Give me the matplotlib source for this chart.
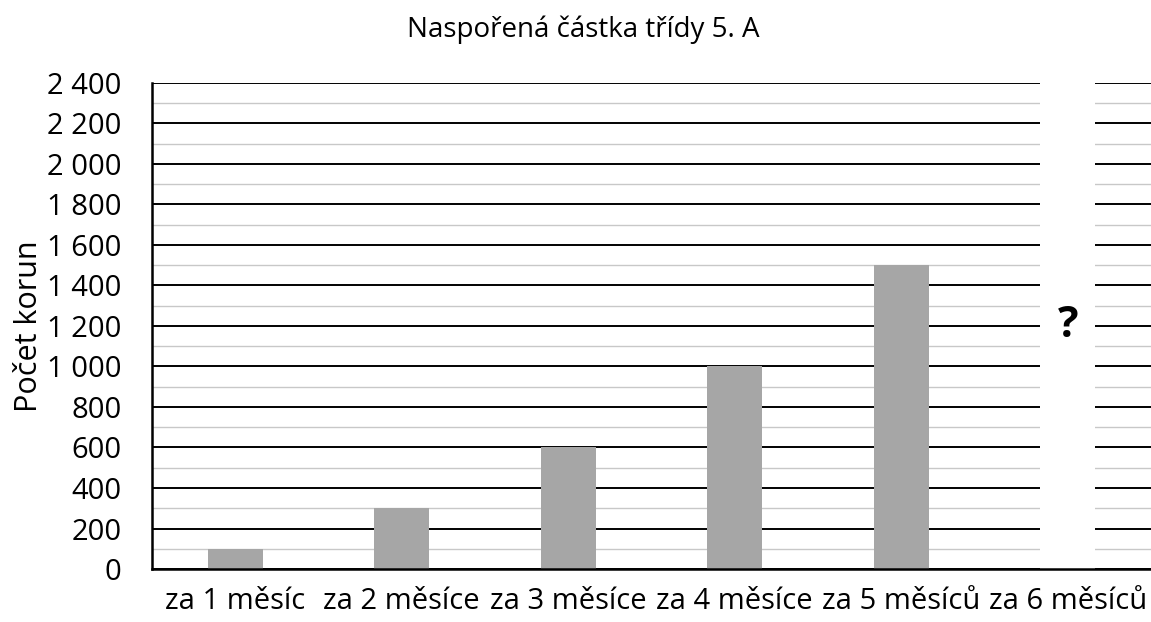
import numpy as np
import matplotlib.pyplot as plt
from matplotlib.ticker import MultipleLocator, FuncFormatter

plt.rcParams['font.family'] = ['Open Sans', 'DejaVu Sans']

categories = ["za 1 měsíc", "za 2 měsíce", "za 3 měsíce", "za 4 měsíce", "za 5 měsíců", "za 6 měsíců"]
values = [100, 300, 600, 1000, 1500]
unknown_label = "?"
unknown_pos = 1200
y_max = 2400

fig = plt.figure(figsize=(11.51, 6.22), dpi=100)
ax = fig.add_axes([0.132, 0.0852, 0.868, 0.7814])

x = np.arange(len(categories))
ax.bar(x[:len(values)], values, width=0.33, color="#a6a6a6", zorder=3)
# blank column over the gridlines for the missing month
ax.bar(x[len(values):], [y_max], width=0.33, color="white", zorder=3)
ax.text(x[-1], unknown_pos, unknown_label, ha="center", va="center",
        fontsize=31, fontweight="bold", zorder=4)

ax.set_xlim(-0.5, len(categories) - 0.5)
ax.set_ylim(0, y_max)
ax.yaxis.set_major_locator(MultipleLocator(200))
ax.yaxis.set_minor_locator(MultipleLocator(100))
ax.yaxis.set_major_formatter(FuncFormatter(lambda v, p: f"{v:,.0f}".replace(",", " ")))
ax.set_xticks(x)
ax.set_xticklabels(categories)

ax.grid(axis="y", which="major", color="black", linewidth=1.4, zorder=1)
ax.grid(axis="y", which="minor", color="#c8c8c8", linewidth=1.0, zorder=1)
ax.set_axisbelow(True)

ax.tick_params(axis="both", which="both", length=0)
ax.tick_params(axis="y", labelsize=21, pad=22)
ax.tick_params(axis="x", labelsize=21, pad=13)

for s in ["top", "right"]:
    ax.spines[s].set_visible(False)
ax.spines["left"].set_linewidth(1.8)
ax.spines["bottom"].set_linewidth(1.8)
ax.spines["left"].set_zorder(5)
ax.spines["bottom"].set_zorder(5)

ax.set_ylabel("Počet korun", fontsize=22, labelpad=2)
fig.text(0.507, 0.952, "Naspořená částka třídy 5. A", ha="center", va="center", fontsize=20)

fig.savefig("out.png", dpi=100)
